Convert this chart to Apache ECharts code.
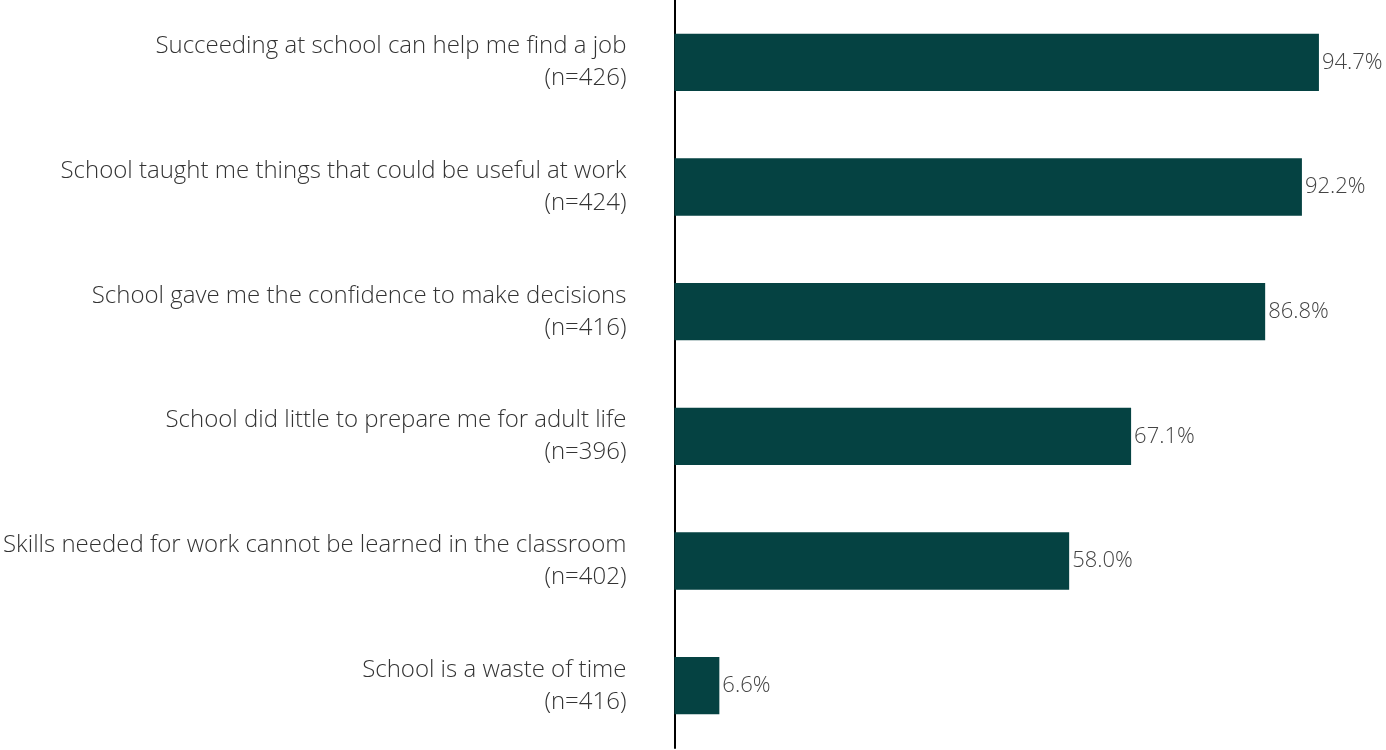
<!DOCTYPE html>
<html>
<head>
<meta charset="utf-8">
<script src="https://cdn.jsdelivr.net/npm/echarts@6/dist/echarts.min.js"></script>
<style>
  html, body { margin: 0; padding: 0; background: #ffffff; }
  #chart { width: 1386px; height: 750px; }
</style>
</head>
<body>
<div id="chart"></div>
<script>
// Survey statements (top to bottom) with sample sizes and share agreeing (%)
const statements = [
  'Succeeding at school can help me find a job',
  'School taught me things that could be useful at work',
  'School gave me the confidence to make decisions',
  'School did little to prepare me for adult life',
  'Skills needed for work cannot be learned in the classroom',
  'School is a waste of time'
];
const sampleSizes = [426, 424, 416, 396, 402, 416];
const agreePct = [94.7, 92.2, 86.8, 67.1, 58.0, 6.6];

const categories = statements.map((s, i) => s + '\n(n=' + sampleSizes[i] + ')');

const FONT = '"Open Sans", "Noto Sans", sans-serif';

const chart = echarts.init(document.getElementById('chart'), null, { renderer: 'canvas' });
chart.setOption({
  animation: false,
  backgroundColor: '#ffffff',
  grid: { left: 674, right: 31, top: 0, bottom: 2, containLabel: false },
  xAxis: {
    type: 'value',
    min: 0,
    max: 100,
    show: false
  },
  yAxis: {
    type: 'category',
    data: categories,
    inverse: true,
    axisLine: { show: true, lineStyle: { color: '#000000', width: 2 } },
    axisTick: { show: false },
    axisLabel: {
      margin: 48,
      align: 'right',
      color: '#333333',
      fontFamily: FONT,
      fontWeight: 300,
      fontSize: 24,
      lineHeight: 32,
      padding: [7, 0, 0, 0]
    }
  },
  series: [{
    type: 'bar',
    data: agreePct,
    barWidth: '46%',
    itemStyle: { color: '#054242' },
    label: {
      show: true,
      position: 'right',
      distance: 3,
      color: '#444444',
      fontFamily: FONT,
      fontWeight: 300,
      fontSize: 22,
      padding: [5, 0, 0, 0],
      formatter: p => p.value.toFixed(1) + '%'
    }
  }]
});
</script>
</body>
</html>
